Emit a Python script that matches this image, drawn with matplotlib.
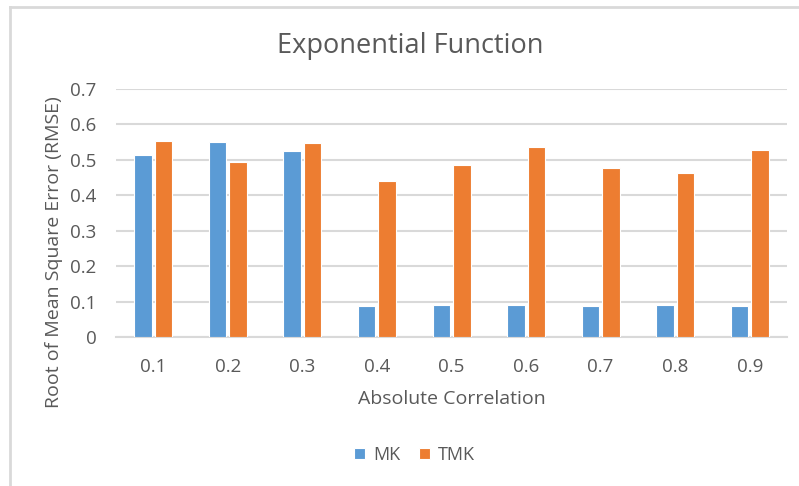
import matplotlib.pyplot as plt
import numpy as np
from matplotlib.lines import Line2D

plt.rcParams['font.family'] = ['Open Sans', 'DejaVu Sans']

correlation = ['0.1', '0.2', '0.3', '0.4', '0.5', '0.6', '0.7', '0.8', '0.9']
rmse_mk = [0.513, 0.551, 0.524, 0.088, 0.091, 0.091, 0.088, 0.091, 0.088]
rmse_tmk = [0.554, 0.494, 0.549, 0.441, 0.486, 0.537, 0.476, 0.464, 0.527]

blue = '#5B9BD5'
orange = '#ED7D31'
text_grey = '#595959'
grid_grey = '#D9D9D9'

fig = plt.figure(figsize=(7.99, 4.86), dpi=100)
ax = fig.add_axes([0.1452, 0.306, 0.8398, 0.5109])

x = np.arange(len(correlation))
w = 0.235
ax.bar(x - w / 2 - 0.02, rmse_mk, w, color=blue, edgecolor='white', linewidth=0.8, label='MK', zorder=3)
ax.bar(x + w / 2 + 0.02, rmse_tmk, w, color=orange, edgecolor='white', linewidth=0.8, label='TMK', zorder=3)

ax.set_xlim(-0.5, len(correlation) - 0.5)
ax.set_ylim(0, 0.7)
ax.set_yticks(np.arange(0, 0.71, 0.1))
ax.set_yticklabels(['0', '0.1', '0.2', '0.3', '0.4', '0.5', '0.6', '0.7'])
ax.set_xticks(x)
ax.set_xticklabels(correlation)
ax.yaxis.grid(True, color=grid_grey, linewidth=1.5, zorder=0)
ax.set_axisbelow(True)
for side in ['top', 'right', 'left']:
    ax.spines[side].set_visible(False)
ax.spines['bottom'].set_color(grid_grey)
ax.spines['bottom'].set_linewidth(1.5)
ax.tick_params(length=0, labelsize=13.5, colors=text_grey)
ax.tick_params(axis='x', pad=15)
ax.tick_params(axis='y', pad=14)

fig.text(0.513, 0.906, 'Exponential Function', fontsize=19.5, color=text_grey,
         ha='center', va='center')
ax.set_xlabel('Absolute Correlation', fontsize=14, color=text_grey, labelpad=10)
ax.set_ylabel('Root of Mean Square Error (RMSE)', fontsize=14, color=text_grey, va='center')
ax.yaxis.set_label_coords(-0.093, 0.3435)

leg = fig.legend(loc='center', bbox_to_anchor=(0.519, 0.064), ncol=2, frameon=False,
                 fontsize=13, handlelength=0.6, handleheight=0.6, handletextpad=0.45,
                 columnspacing=1.05)
for t in leg.get_texts():
    t.set_color(text_grey)

# light chart border
fig.add_artist(Line2D([0.0125, 1.0], [0.9866, 0.9866], color=grid_grey, linewidth=2, transform=fig.transFigure))
fig.add_artist(Line2D([0.0125, 0.0125], [0.0, 0.9866], color=grid_grey, linewidth=2, transform=fig.transFigure))

fig.savefig('out.png', dpi=100)
